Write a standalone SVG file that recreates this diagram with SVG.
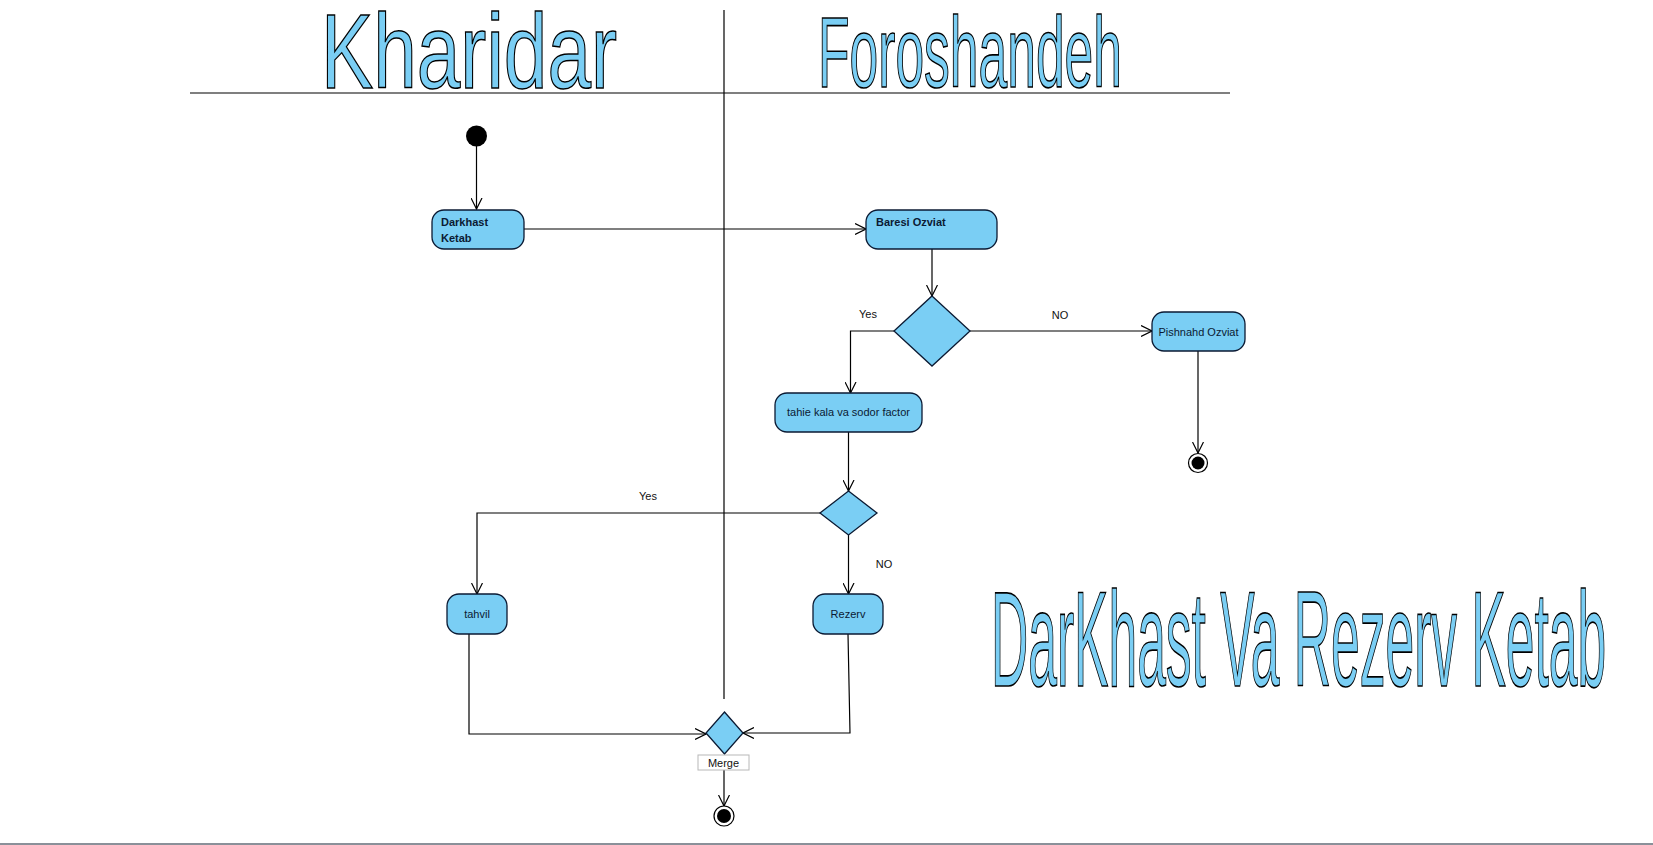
<svg xmlns="http://www.w3.org/2000/svg" width="1653" height="845" viewBox="0 0 1653 845">
<defs>
<style>
.node{fill:#7ACEF4;stroke:#0b1a33;stroke-width:1.3}
.lbl{font-family:"Liberation Sans",Arial,sans-serif;font-size:11px;fill:#0b1a33}
.bold{font-weight:bold}
.edge{fill:none;stroke:#000;stroke-width:1.2}
.lane{stroke:#000;stroke-width:1.2}
.word{font-family:"Liberation Sans",Arial,sans-serif;fill:#7ACEF4;stroke:#000;stroke-width:1.3}
.elbl{font-family:"Liberation Sans",Arial,sans-serif;font-size:11px;fill:#111}
</style>
<marker id="arr" markerUnits="userSpaceOnUse" markerWidth="12" markerHeight="12" refX="11" refY="6" orient="auto">
<path d="M0,0.5 L11,6 L0,11.5" fill="none" stroke="#000" stroke-width="1.2"/>
</marker>
</defs>
<rect width="1653" height="845" fill="#fff"/>
<line x1="0" y1="844" x2="1653" y2="844" stroke="#8a9099" stroke-width="2"/>

<g id="lanes">
<line class="lane" x1="190" y1="93" x2="1230" y2="93"/>
<line class="lane" x1="724" y1="10" x2="724" y2="699"/>
<text class="word" transform="translate(321,88) scale(0.739,1)" x="0" y="0" font-size="106" vector-effect="non-scaling-stroke">Kharidar</text>
<text class="word" transform="translate(818,87) scale(0.516,1)" x="0" y="0" font-size="100" vector-effect="non-scaling-stroke">Foroshandeh</text>
</g>

<g id="title">
<text class="word" transform="translate(991,686) scale(0.382,1)" x="0" y="0" font-size="135" vector-effect="non-scaling-stroke">DarKhast Va Rezerv Ketab</text>
</g>

<g id="connectors">
<path class="edge" d="M476.5,146 L476.5,209" marker-end="url(#arr)"/>
<path class="edge" d="M524,229 L866,229" marker-end="url(#arr)"/>
<path class="edge" d="M932,249 L932,296" marker-end="url(#arr)"/>
<path class="edge" d="M894,331 L850.5,331 L850.5,393" marker-end="url(#arr)"/>
<path class="edge" d="M970,331 L1152,331" marker-end="url(#arr)"/>
<path class="edge" d="M1198,351 L1198,453" marker-end="url(#arr)"/>
<path class="edge" d="M848.5,432 L848.5,491" marker-end="url(#arr)"/>
<path class="edge" d="M820,513 L477,513 L477,594" marker-end="url(#arr)"/>
<path class="edge" d="M848.5,535 L848.5,594" marker-end="url(#arr)"/>
<path class="edge" d="M469,634 L469,734 L706,734" marker-end="url(#arr)"/>
<path class="edge" d="M848,634 L850,733 L743,733" marker-end="url(#arr)"/>
<path class="edge" d="M724,770 L724,806" marker-end="url(#arr)"/>
<text class="elbl" x="868" y="318" text-anchor="middle">Yes</text>
<text class="elbl" x="1060" y="319" text-anchor="middle">NO</text>
<text class="elbl" x="648" y="500" text-anchor="middle">Yes</text>
<text class="elbl" x="884" y="568" text-anchor="middle">NO</text>
</g>

<g id="start">
<circle cx="476.5" cy="136" r="10.5" fill="#000"/>
</g>

<g id="darkhast">
<rect class="node" x="432" y="210" width="92" height="39" rx="12"/>
<text class="lbl bold" x="441" y="226">Darkhast</text>
<text class="lbl bold" x="441" y="242">Ketab</text>
</g>

<g id="baresi">
<rect class="node" x="866" y="210" width="131" height="39" rx="12"/>
<text class="lbl bold" x="876" y="226">Baresi Ozviat</text>
</g>

<g id="decision1">
<polygon class="node" points="932,296 970,331 932,366 894,331"/>
</g>

<g id="pishnahd">
<rect class="node" x="1152" y="312" width="93" height="39" rx="12"/>
<text class="lbl" x="1198.5" y="335.5" text-anchor="middle">Pishnahd Ozviat</text>
</g>

<g id="final1">
<circle cx="1198" cy="463" r="9.5" fill="#fff" stroke="#000" stroke-width="1.2"/>
<circle cx="1198" cy="463" r="6.5" fill="#000"/>
</g>

<g id="tahie">
<rect class="node" x="775" y="393" width="147" height="39" rx="12"/>
<text class="lbl" x="848.5" y="416" text-anchor="middle">tahie kala va sodor factor</text>
</g>

<g id="decision2">
<polygon class="node" points="848.5,491 877,513 848.5,535 820,513"/>
</g>

<g id="tahvil">
<rect class="node" x="447" y="594" width="60" height="40" rx="12"/>
<text class="lbl" x="477" y="618" text-anchor="middle">tahvil</text>
</g>

<g id="rezerv">
<rect class="node" x="813" y="594" width="70" height="40" rx="12"/>
<text class="lbl" x="848" y="618" text-anchor="middle">Rezerv</text>
</g>

<g id="merge">
<polygon class="node" points="724.5,712 743,733 724.5,754 706,733"/>
<rect x="698" y="755" width="51" height="15" fill="#fff" stroke="#b8b8b8" stroke-width="1"/>
<text class="elbl" x="723.5" y="766.5" text-anchor="middle">Merge</text>
</g>

<g id="final2">
<circle cx="724" cy="816" r="10" fill="#fff" stroke="#000" stroke-width="1.2"/>
<circle cx="724" cy="816" r="7" fill="#000"/>
</g>
</svg>
